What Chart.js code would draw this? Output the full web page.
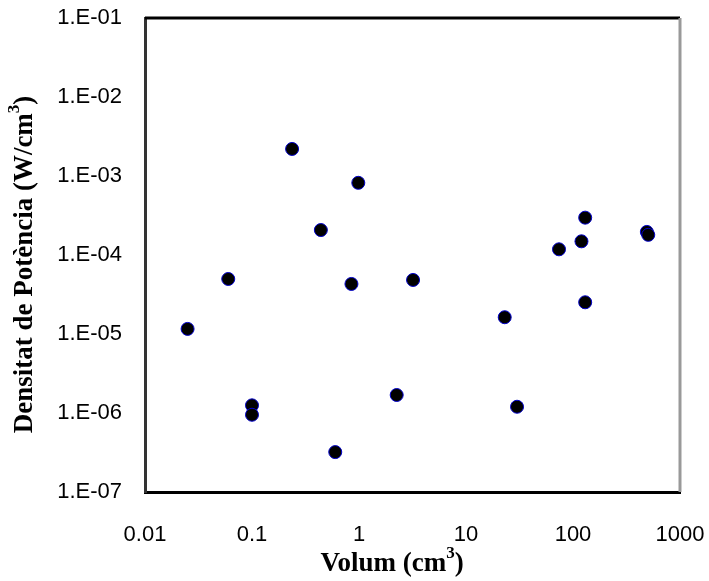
<!DOCTYPE html>
<html>
<head>
<meta charset="utf-8">
<script src="https://cdn.jsdelivr.net/npm/chart.js@4/dist/chart.umd.min.js"></script>
<style>
  html, body { margin: 0; padding: 0; background: #fff; }
  .wrap-chart { width: 709px; height: 581px; }
</style>
</head>
<body>
<div class="wrap-chart"><canvas></canvas></div>
<script>
// volume (cm3) and power density (W/cm3)
const volum = [0.025, 0.06, 0.1, 0.1, 0.237, 0.44, 0.6, 0.85, 0.985, 2.25, 3.2, 23, 30, 74, 120, 130, 130, 490, 505];
const densitat = [1.16e-5, 4.97e-5, 1.25e-6, 0.95e-6, 2.2e-3, 2.07e-4, 3.2e-7, 4.3e-5, 8.2e-4, 1.69e-6, 4.83e-5, 1.63e-5, 1.2e-6, 1.18e-4, 1.49e-4, 2.97e-4, 2.52e-5, 1.96e-4, 1.8e-4];

const xTicks = [0.01, 0.1, 1, 10, 100, 1000];
const xTickLabels = ['0.01', '0.1', '1', '10', '100', '1000'];
const yTicks = [1e-7, 1e-6, 1e-5, 1e-4, 1e-3, 1e-2, 1e-1];
const yTickLabels = ['1.E-07', '1.E-06', '1.E-05', '1.E-04', '1.E-03', '1.E-02', '1.E-01'];

const xTitle = ['Volum (cm', '3', ')'];
const yTitle = ['Densitat de Potència (W/cm', '3', ')'];

// frame top/right + axis titles with a real superscript
const framePlugin = {
    id: 'frame',
    beforeDatasetsDraw(chart) {
        const c = chart.ctx, a = chart.chartArea;
        c.save();
        c.lineWidth = 3;
        c.strokeStyle = '#000';
        c.beginPath();
        c.moveTo(a.left, a.top);
        c.lineTo(a.right, a.top);
        c.stroke();
        c.strokeStyle = '#999';
        c.beginPath();
        c.moveTo(a.right, a.top);
        c.lineTo(a.right, a.bottom);
        c.stroke();
        c.restore();
    },
    afterDraw(chart) {
        const c = chart.ctx, a = chart.chartArea;
        const big = 'bold 27px "Liberation Serif", "Times New Roman", serif';
        const small = 'bold 17px "Liberation Serif", "Times New Roman", serif';
        function drawTitle(parts) {
            c.font = big; const w0 = c.measureText(parts[0]).width;
            c.font = small; const w1 = c.measureText(parts[1]).width;
            c.font = big; const w2 = c.measureText(parts[2]).width;
            let x = -(w0 + w1 + w2) / 2;
            c.textBaseline = 'middle';
            c.textAlign = 'left';
            c.fillStyle = '#000';
            c.font = big; c.fillText(parts[0], x, 0); x += w0;
            c.font = small; c.fillText(parts[1], x, -10); x += w1;
            c.font = big; c.fillText(parts[2], x, 0);
        }
        c.save();
        c.translate(a.left + a.width * 0.4617, 564);
        drawTitle(xTitle);
        c.restore();
        c.save();
        c.translate(25, a.top + a.height * 0.52);
        c.rotate(-Math.PI / 2);
        drawTitle(yTitle);
        c.restore();
    }
};

const ctx = document.querySelector('.wrap-chart canvas').getContext('2d');
const chart = new Chart(ctx, {
    type: 'scatter',
    data: {
        datasets: [{
            data: volum.map((v, i) => ({ x: v, y: densitat[i] })),
            backgroundColor: '#000',
            borderColor: '#0000cc',
            borderWidth: 1,
            pointRadius: 6.5,
            pointHoverRadius: 6.5
        }]
    },
    options: {
        responsive: true,
        maintainAspectRatio: false,
        animation: false,
        layout: { padding: { top: 18, right: 29, left: 0, bottom: 0 } },
        plugins: { legend: { display: false }, tooltip: { enabled: false } },
        scales: {
            x: {
                type: 'logarithmic',
                min: 0.01,
                max: 1000,
                afterBuildTicks: s => { s.ticks = xTicks.map(v => ({ value: v })); },
                afterFit: s => { s.height = 89; s.paddingLeft = 0; s.paddingRight = 0; },
                grid: { display: false },
                border: { color: '#000', width: 3 },
                ticks: {
                    autoSkip: false,
                    maxRotation: 0,
                    padding: 22,
                    color: '#000',
                    font: { family: '"Liberation Sans", Arial, sans-serif', size: 22 },
                    callback: (v, i) => xTickLabels[i]
                }
            },
            y: {
                type: 'logarithmic',
                min: 1e-7,
                max: 1e-1,
                afterBuildTicks: s => { s.ticks = yTicks.map(v => ({ value: v })); },
                afterFit: s => { s.width = 145; s.paddingTop = 0; s.paddingBottom = 0; },
                grid: { display: false },
                border: { color: '#333', width: 3 },
                ticks: {
                    autoSkip: false,
                    padding: 15,
                    color: '#000',
                    font: { family: '"Liberation Sans", Arial, sans-serif', size: 22 },
                    callback: (v, i) => yTickLabels[i]
                }
            }
        }
    },
    plugins: [framePlugin]
});
</script>
</body>
</html>
